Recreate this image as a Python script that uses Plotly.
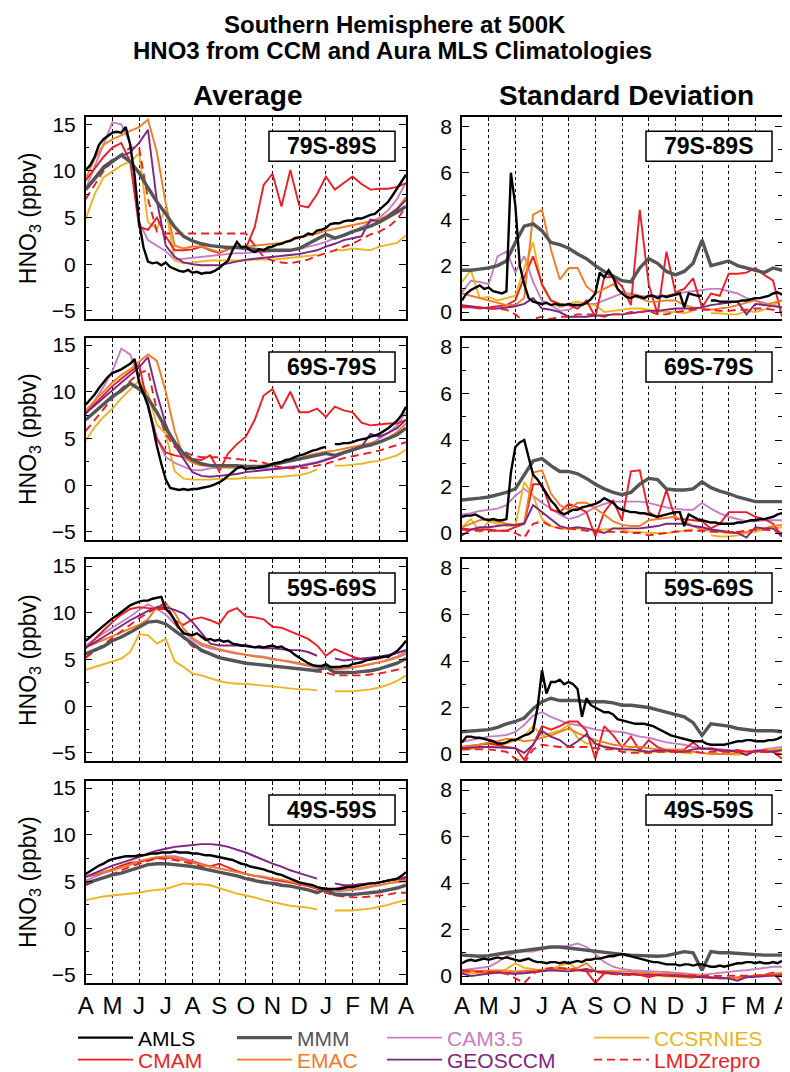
import plotly.graph_objects as go

# The page body adds an 8px margin, so the figure is sized to fill the rest of the 790x1072 window.
OFF = 8
W, H = 790 - OFF, 1072 - OFF
FONT = "Liberation Sans, Arial, Helvetica, sans-serif"

MONTHS = ["A", "M", "J", "J", "A", "S", "O", "N", "D", "J", "F", "M", "A"]
REGIONS = ["79S-89S", "69S-79S", "59S-69S", "49S-59S"]
X_MODEL = [k / 3 for k in range(37)]   # model climatology sampling (~10 days)
X_AMLS = [j / 6 for j in range(73)]    # Aura MLS sampling

# ---------------- Average, 79S-89S ----------------
avg1_amls = [10.1, 10.6, 11.5, 12.8, 13.4, 13.8, 14.1, 14.2, 14.1, 14.7, 12.8, 9.5, 4.5, 1.8, 0.3, 0.1, 0.2, -0.1,
             0.2, -0.3, -0.5, -0.7, -0.8, -0.6, -0.9, -0.8, -1.0, -0.9, -0.9, -0.7, -0.4, 0.0, 0.4, 1.5, 2.4, 1.8,
             1.9, 1.5, 1.3, 1.6, 1.5, 1.8, 1.9, 2.1, 2.2, 2.4, 2.5, 2.8, 2.9, 3.0, 3.3, 3.2, 3.6, 3.7,
             3.9, 4.3, 4.4, 4.4, 4.6, 4.7, 4.7, 4.9, 4.9, 5.1, 5.3, 5.4, 5.8, 6.2, 6.7, 7.4, 8.1, 8.8, 9.6]
avg1_mmm = [8.0, 9.2, 10.3, 11.0, 11.7, 11.0, 9.8, 8.2, 6.7, 5.4, 4.0, 3.0, 2.5, 2.2, 2.0, 1.9, 1.8, 1.8, 1.7, 1.6,
            1.5, 1.5, 1.5, 1.5, 1.7, 2.2, 2.8, 3.2, 2.8, 3.1, 3.5, 3.8, 4.1, 4.5, 5.0, 5.6, 6.2]
avg1_cam = [8.1, 10.5, 13.0, 15.2, 15.0, 13.0, 4.5, 2.6, 2.0, 1.4, 0.5, 0.6, 0.7, 0.8, 0.9, 1.0, 1.1, 1.2, 1.2, 1.3,
            1.3, 1.4, 1.4, 1.5, 1.6, 1.9, 2.1, 2.4, 2.8, 3.2, 3.5, 4.0, 4.5, 5.0, 5.8, 7.0, 8.8]
avg1_ccsr = [4.9, 7.5, 9.3, 10.0, 10.6, 11.0, 11.9, 4.5, 3.8, 6.0, 0.4, 0.1, 0.2, 0.3, 0.4, 0.4, 0.4, 0.4, 0.4, 0.5,
             0.5, 0.5, 0.6, 0.7, 0.8, 0.9, 1.0, None, 1.5, 1.5, 1.7, 1.6, 1.5, 1.9, 2.1, 2.3, 3.1]
avg1_cmam = [9.0, 10.3, 11.5, 12.5, 13.0, 11.0, 4.0, 3.7, 5.0, 3.0, 1.5, 1.5, 1.6, 1.9, 1.5, 1.2, 1.6, 1.9, 1.7, 4.0,
             8.5, 9.7, 6.2, 10.1, 6.3, 6.1, 7.5, 9.4, 8.0, 8.7, 9.4, 8.6, 8.0, 8.1, 8.1, 8.3, 8.7]
avg1_emac = [9.2, 11.3, 12.8, 13.4, 13.8, 14.3, 14.7, 15.5, 12.0, 6.5, 2.0, 1.7, 1.9, 1.9, 1.6, 1.3, 1.6, 1.9, 1.9, 2.0,
             2.1, 2.2, 2.3, 2.6, 2.8, 3.1, 3.3, 3.6, 3.8, 4.0, 4.2, 4.4, 4.6, 4.8, 5.3, 6.0, 7.2]
avg1_geos = [8.1, 9.3, 10.5, 11.2, 11.6, 12.0, 13.0, 14.4, 6.8, 2.0, 0.8, 0.2, 0.0, -0.1, -0.1, -0.1, 0.1, 0.3, 0.5, 0.6,
             0.7, 0.8, 0.9, 1.0, 1.1, 1.3, 1.5, 1.9, 2.2, 2.6, 2.8, 3.0, 4.8, 4.6, 5.2, 5.9, 6.9]
avg1_lmdz = [7.0, 8.5, 10.0, 11.0, 11.8, 12.5, 12.5, 7.0, 3.5, 3.3, 3.3, 3.3, 3.3, 3.3, 3.3, 3.3, 3.3, 3.3, 3.3, 2.0,
             0.8, 0.4, 0.2, 0.1, 0.3, 0.5, 0.9, 1.2, 1.5, 1.9, 2.2, 2.7, 3.2, 3.5, 4.0, 4.8, 6.2]

# ---------------- Average, 69S-79S ----------------
avg2_amls = [8.6, 9.1, 9.7, 10.4, 11.0, 11.6, 12.0, 12.2, 12.4, 12.7, 13.0, 13.5, 11.0, 9.8, 8.5, 6.5, 4.2, 2.3,
             0.6, -0.3, -0.4, -0.5, -0.4, -0.5, -0.4, -0.4, -0.3, -0.2, -0.1, 0.1, 0.3, 0.6, 1.0, 1.5, 1.8, 2.0,
             1.7, 1.8, 1.8, 1.9, 2.0, 2.1, 2.3, 2.4, 2.5, 2.7, 2.8, 3.0, 3.2, 3.3, 3.5, 3.7, 3.8, 4.0,
             4.1, None, 4.4, 4.4, 4.5, 4.5, 4.6, 4.8, 4.9, 5.0, 5.2, 5.3, 5.5, 5.8, 6.1, 6.5, 6.9, 7.5, 8.4]
avg2_mmm = [7.0, 7.8, 8.7, 9.5, 10.1, 10.9, 10.3, 9.3, 7.8, 6.1, 4.6, 3.4, 2.7, 2.3, 2.1, 2.1, 2.1, 2.1, 2.0, 2.0,
            2.0, 2.2, 2.4, 2.6, 2.8, 3.0, 3.2, 3.4, 3.2, 3.5, 3.8, 4.1, 4.3, 4.6, 5.0, 5.4, 6.1]
avg2_cam = [7.6, 9.0, 10.5, 12.2, 14.6, 14.0, 11.5, 8.8, 5.0, 3.0, 2.4, 2.0, 1.6, 1.6, 1.8, 1.9, 1.9, 1.9, 1.9, 1.8,
            1.8, 1.8, 1.9, 2.0, 2.1, 2.3, 2.5, 2.8, 3.1, 3.4, 3.7, 4.0, 4.4, 5.0, 5.6, 6.4, 7.8]
avg2_ccsr = [4.8, 6.2, 7.3, 8.2, 9.3, 10.2, 11.2, 9.8, 6.5, 5.5, 1.5, 0.7, 0.6, 0.6, 0.6, 0.7, 0.7, 0.7, 0.8, 0.8,
             0.8, 0.9, 0.9, 1.0, 1.1, 1.3, 1.7, None, 2.1, 2.1, 2.2, 2.3, 2.5, 2.6, 2.9, 3.2, 3.8]
avg2_cmam = [7.7, 8.7, 9.7, 10.6, 11.4, 12.2, 12.9, 8.5, 5.0, 3.5, 3.2, 3.0, 2.8, 2.7, 3.2, 1.5, 3.4, 4.4, 5.2, 7.0,
             9.6, 10.3, 8.2, 10.0, 7.8, 7.8, 8.2, 7.3, 8.4, 8.0, 7.8, 6.7, 6.4, 6.5, 6.6, 6.6, 7.0]
avg2_emac = [8.0, 9.0, 10.0, 11.0, 11.8, 12.4, 13.2, 14.0, 13.3, 10.0, 5.8, 3.0, 2.4, 2.1, 2.1, 2.0, 1.9, 1.9, 1.9, 2.0,
             2.1, 2.2, 2.4, 2.6, 2.9, 3.2, 3.4, 3.6, 3.7, 3.9, 4.1, 4.3, 4.5, 4.7, 5.1, 5.7, 6.6]
avg2_geos = [7.7, 8.5, 9.3, 10.2, 11.0, 11.8, 12.6, 13.7, 9.8, 6.5, 4.3, 2.8, 1.4, 1.0, 0.9, 1.0, 1.1, 1.2, 1.4, 1.5,
             1.6, 1.7, 1.8, 1.9, 2.0, 2.2, 2.4, 2.7, 3.0, 3.4, 3.7, 4.1, 5.5, 5.2, 5.6, 6.1, 7.0]
avg2_lmdz = [5.8, 7.0, 8.2, 9.3, 10.3, 11.2, 12.0, 12.3, 8.0, 5.5, 4.1, 3.6, 3.2, 3.0, 3.0, 3.0, 2.9, 2.8, 2.7, 2.6,
             2.4, 2.1, 1.9, 1.8, 1.8, 1.9, 2.1, 2.3, 2.6, 2.9, 3.1, 3.3, 3.5, 3.7, 4.0, 4.3, 4.6]

# ---------------- Average, 59S-69S ----------------
avg3_amls = [7.0, 7.4, 7.9, 8.3, 8.6, 9.1, 9.4, 9.7, 10.1, 10.5, 10.8, 11.0, 11.2, 11.3, 11.3, 11.5, 11.6, 11.7,
             10.4, 10.0, 9.2, 8.4, 7.8, 7.7, 7.6, 7.8, 7.4, 7.1, 7.2, 7.0, 7.1, 6.9, 7.0, 6.7, 6.6, 6.5,
             6.5, 6.4, 6.3, 6.4, 6.3, 6.4, 6.5, 6.3, 6.4, 6.1, 5.9, 5.5, 5.2, 4.9, 4.6, 4.4, 4.3, 4.3,
             4.5, 4.2, 4.2, 4.2, 4.3, 4.3, 4.5, 4.6, 4.7, 4.9, 5.0, 5.1, 5.2, 5.3, 5.3, 5.6, 5.9, 6.4, 7.0]
avg3_mmm = [5.6, 6.0, 6.4, 7.0, 7.4, 7.9, 8.5, 9.0, 9.1, 8.8, 8.1, 7.4, 6.6, 6.0, 5.6, 5.2, 5.0, 4.8, 4.6, 4.5,
            4.4, 4.3, 4.2, 4.1, 4.0, 3.9, 3.8, 4.2, 3.6, 3.6, 3.6, 3.7, 3.8, 4.0, 4.3, 4.6, 5.1]
avg3_cam = [6.5, 7.2, 7.8, 8.4, 9.0, 9.6, 10.3, 10.9, 10.4, 9.8, 8.8, 7.9, 7.1, 6.5, 6.2, 6.0, 5.8, 5.6, 5.5, 5.4,
            5.3, 5.1, 4.9, 4.7, 4.5, 4.3, 4.1, 4.2, 3.9, 4.0, 4.1, 4.3, 4.5, 4.7, 5.0, 5.3, 5.8]
avg3_ccsr = [3.9, 4.2, 4.5, 4.8, 5.1, 5.8, 7.7, 7.6, 6.7, 7.2, 4.8, 4.2, 3.5, 3.3, 3.0, 2.7, 2.5, 2.4, 2.4, 2.3,
             2.2, 2.1, 2.0, 1.9, 1.8, 1.8, 1.7, None, 1.6, 1.6, 1.6, 1.7, 1.8, 2.0, 2.3, 2.7, 3.3]
avg3_cmam = [6.2, 7.2, 8.1, 9.0, 9.8, 10.4, 10.6, 10.5, 10.4, 10.4, 9.2, 8.7, 9.3, 9.5, 9.2, 8.8, 10.1, 10.5, 9.6, 9.5,
             9.3, 8.5, 8.4, 8.0, 7.6, 7.2, 6.5, 5.4, 6.1, 5.7, 5.3, 5.0, 5.0, 5.1, 5.4, 5.7, 6.0]
avg3_emac = [6.3, 6.7, 7.1, 7.5, 7.9, 8.3, 8.7, 9.3, 10.6, 11.0, 10.0, 8.3, 7.3, 6.7, 6.4, 6.1, 5.9, 5.7, 5.5, 5.3,
             5.2, 5.0, 4.9, 4.8, 4.6, 4.4, 4.3, 4.2, 4.0, 4.1, 4.2, 4.3, 4.5, 4.7, 4.9, 5.2, 5.6]
avg3_geos = [6.3, 6.8, 7.4, 8.0, 8.6, 9.2, 9.7, 10.2, 10.6, 10.6, 10.3, 9.9, 9.0, 7.8, 6.7, 6.5, 6.5, 6.5, 6.4, 6.3,
             6.2, 6.2, 6.1, 6.0, 6.0, 5.8, 5.4, None, 5.1, 4.9, 5.0, 5.1, 5.2, 5.3, 5.5, 5.7, 6.0]
avg3_lmdz = [5.2, 5.9, 6.6, 7.3, 8.0, 8.7, 9.4, 10.0, 10.6, 11.0, 9.0, 7.3, 6.4, 5.9, 5.5, 5.2, 5.0, 4.8, 4.6, 4.5,
             4.4, 4.3, 4.2, 4.1, 4.0, 3.9, 3.7, 3.6, 3.3, 3.3, 3.3, 3.3, 3.4, 3.5, 3.7, 3.9, 4.2]

# ---------------- Average, 49S-59S ----------------
avg4_amls = [5.8, 6.1, 6.4, 6.7, 6.9, 7.2, 7.4, 7.5, 7.6, 7.7, 7.7, 7.7, 7.8, 7.8, 7.9, 8.0, 8.0, 8.1,
             8.1, 8.1, 8.2, 8.1, 8.1, 8.1, 8.0, 8.0, 7.9, 7.8, 7.8, 7.7, 7.6, 7.5, 7.4, 7.3, 7.1, 6.9,
             6.8, 6.6, 6.5, 6.4, 6.3, 6.1, 6.0, 5.8, 5.7, 5.5, 5.3, 5.1, 4.9, 4.8, 4.7, 4.6, 4.4, 4.3,
             4.2, 4.2, 4.2, 4.2, 4.3, 4.4, 4.4, 4.5, 4.6, 4.7, 4.8, 4.8, 4.9, 5.0, 5.1, 5.2, 5.3, 5.6, 6.0]
avg4_mmm = [4.8, 5.1, 5.4, 5.7, 5.9, 6.2, 6.5, 6.8, 6.9, 6.9, 6.8, 6.7, 6.6, 6.4, 6.2, 6.0, 5.8, 5.6, 5.3, 5.1,
            4.9, 4.8, 4.6, 4.5, 4.3, 4.1, 3.8, 4.2, 3.6, 3.6, 3.6, 3.7, 3.8, 3.9, 4.1, 4.3, 4.6]
avg4_cam = [5.1, 5.5, 5.9, 6.2, 6.5, 6.8, 7.1, 7.4, 7.6, 7.7, 7.7, 7.5, 7.2, 6.9, 6.6, 6.4, 6.2, 6.0, 5.8, 5.6,
            5.4, 5.2, 5.0, 4.9, 4.7, 4.5, 4.3, 4.3, 3.9, 4.0, 4.1, 4.2, 4.4, 4.6, 4.8, 4.9, 5.0]
avg4_ccsr = [3.0, 3.2, 3.4, 3.5, 3.6, 3.7, 3.8, 4.0, 4.1, 4.2, 4.5, 4.8, 4.7, 4.7, 4.6, 4.3, 4.0, 3.7, 3.5, 3.3,
             3.0, 2.8, 2.6, 2.4, 2.3, 2.2, 2.0, None, 1.9, 1.9, 1.9, 2.0, 2.1, 2.3, 2.5, 2.8, 3.0]
avg4_cmam = [5.5, 5.7, 6.0, 6.3, 6.7, 7.0, 7.1, 7.3, 7.5, 7.5, 7.5, 7.3, 7.1, 6.8, 6.6, 6.9, 6.5, 6.1, 5.8, 5.6,
             5.5, 5.2, 5.1, 4.9, 4.7, 4.5, 4.2, 3.9, 4.2, 4.4, 4.6, 4.7, 4.8, 4.9, 5.1, 5.2, 5.3]
avg4_emac = [5.5, 5.8, 6.0, 6.2, 6.5, 6.8, 7.2, 7.4, 7.6, 7.6, 7.5, 7.3, 7.0, 6.8, 6.6, 6.4, 6.2, 6.0, 5.8, 5.6,
             5.5, 5.3, 5.2, 5.0, 4.8, 4.6, 4.3, 4.2, 4.1, 4.1, 4.2, 4.3, 4.5, 4.6, 4.8, 5.0, 5.1]
avg4_geos = [5.5, 5.9, 6.3, 6.7, 7.0, 7.3, 7.6, 8.0, 8.3, 8.5, 8.7, 8.8, 8.9, 9.0, 9.0, 8.9, 8.7, 8.4, 8.1, 7.7,
             7.3, 6.9, 6.6, 6.2, 5.9, 5.6, 5.3, None, 4.8, 4.6, 4.6, 4.7, 4.8, 4.9, 5.1, 5.3, 5.5]
avg4_lmdz = [4.6, 5.0, 5.4, 5.8, 6.2, 6.6, 6.9, 7.2, 7.5, 7.4, 7.3, 7.1, 6.9, 6.6, 6.3, 6.0, 5.8, 5.6, 5.4, 5.2,
             5.0, 4.9, 4.7, 4.5, 4.3, 4.1, 3.9, 3.8, 3.5, 3.4, 3.3, 3.3, 3.4, 3.5, 3.6, 3.8, 3.8]

# ---------------- Standard deviation, 79S-89S ----------------
sd1_amls = [0.5, 0.8, 0.95, 1.05, 1.15, 1.0, 1.05, 0.9, 0.85, 0.8, 0.9, 6.0, 4.6, 2.0, 1.2, 0.6, 0.45, 0.4,
            0.35, 0.4, 0.3, 0.35, 0.3, 0.3, 0.35, 0.3, 0.3, 0.3, 0.4, 0.55, 0.8, 1.7, 1.5, 1.8, 1.5, 1.0,
            0.8, 0.65, 0.6, 0.7, 0.65, 0.6, 0.7, 0.7, 0.6, 0.7, 0.65, 0.7, 0.75, 0.8, 0.2, 0.8, 0.75, 0.7,
            0.7, None, 0.5, 0.5, 0.45, 0.45, 0.45, 0.45, 0.45, 0.5, 0.5, 0.55, 0.6, 0.6, 0.65, 0.7, 0.8, 0.85, 0.75]
sd1_mmm = [1.8, 1.8, 1.85, 1.9, 2.0, 2.2, 3.0, 3.7, 3.8, 3.5, 3.0, 2.9, 2.75, 2.5, 2.3, 2.0, 1.75, 1.55, 1.35, 1.3,
           1.9, 2.3, 2.1, 1.75, 1.6, 1.75, 2.1, 3.1, 2.0, 2.1, 2.2, 2.0, 1.9, 1.8, 1.7, 1.9, 1.8]
sd1_cam = [0.85, 1.35, 1.3, 1.2, 2.4, 2.6, 1.7, 2.4, 1.3, 0.5, 0.3, 0.05, 0.1, 0.3, 0.35, 0.35, 0.5, 0.65, 0.8, 0.8,
           0.7, 0.65, 0.7, 0.7, 0.8, 0.85, 0.9, 0.95, 1.0, 1.0, 0.9, 0.8, 0.6, 0.5, 0.4, 0.3, 0.2]
sd1_ccsr = [1.3, 1.8, 0.6, 0.65, 0.5, 0.6, 0.7, 1.9, 3.0, 1.1, 0.5, 0.2, 0.35, 0.45, 0.35, 0.3, 0.0, 0.05, 0.1, 0.15,
            0.15, 0.1, 0.05, 0.0, 0.0, -0.05, 0.05, None, -0.05, -0.05, -0.1, -0.1, 0.05, 0.0, 0.1, 0.3, 0.5]
sd1_cmam = [0.2, 0.2, 0.15, 0.2, 0.25, 0.3, 0.5, 1.5, 2.4, 1.2, 0.5, 0.35, 0.3, 0.15, 0.5, -0.2, 1.5, 1.5, 1.1, 0.3,
            4.4, 1.2, -0.1, 2.6, 0.85, 1.0, 1.45, 0.2, 0.8, 0.7, 1.65, 1.65, 1.7, 1.9, 1.6, 1.35, -0.2]
sd1_emac = [0.8, 0.7, 0.6, 0.5, 0.4, 0.3, 0.3, 0.6, 4.2, 4.4, 2.7, 1.4, 1.9, 1.9, 1.1, 0.8, 1.0, 1.2, 0.8, 0.7,
            0.6, 0.45, 0.45, 0.5, 0.5, 0.3, 0.2, 0.15, 0.1, 0.15, 0.2, 0.3, 0.4, 0.5, 0.3, 0.4, 0.5]
sd1_geos = [0.3, 0.25, 0.2, 0.15, 0.15, 0.2, 0.25, 0.35, 0.6, 0.15, 0.1, 0.0, -0.2, -0.2, -0.2, -0.15, -0.15, -0.1,
            -0.1, -0.05, 0.0, 0.05, 0.05, 0.1, 0.15, 0.15, 0.15, 0.2, 0.3, 0.35, 0.4, 0.45, -0.1, 0.35, 0.3, 0.25, 0.2]
sd1_lmdz = [0.25, 0.2, 0.2, 0.15, 0.15, 0.1, -0.1, -0.4, -0.3, -0.2, -0.3, -0.2, -0.2, -0.1, -0.1, -0.1, -0.2, -0.1,
            -0.1, 0.0, 0.0, 0.05, -0.1, -0.1, 0.0, 0.05, 0.1, 0.1, 0.1, 0.05, 0.05, 0.1, 0.1, 0.15, 0.15, 0.1, 0.0]

# ---------------- Standard deviation, 69S-79S ----------------
sd2_amls = [0.7, 0.75, 0.75, 0.8, 0.7, 0.6, 0.55, 0.6, 0.55, 0.55, 0.6, 2.6, 3.7, 3.9, 4.0, 3.3, 2.5, 2.3,
            2.0, 1.7, 1.4, 1.2, 0.9, 0.8, 0.9, 1.0, 1.0, 1.1, 1.15, 1.2, 1.25, 1.35, 1.5, 1.4, 1.3, 1.1,
            1.0, 0.95, 0.9, 0.9, 0.85, 0.85, 0.8, 0.75, 0.7, 0.75, 0.8, 0.85, 0.9, 0.9, 0.3, 0.8, 0.7, 0.6,
            0.55, 0.5, 0.45, 0.45, 0.4, 0.4, 0.4, 0.4, 0.45, 0.45, 0.5, 0.55, 0.55, 0.6, 0.6, 0.65, 0.7, 0.8, 0.85]
sd2_mmm = [1.42, 1.45, 1.5, 1.55, 1.65, 1.75, 1.9, 2.5, 3.1, 3.2, 2.9, 2.65, 2.65, 2.55, 2.35, 2.1, 1.9, 1.75, 1.65,
           1.75, 2.1, 2.35, 2.3, 1.9, 1.85, 1.85, 1.9, 2.2, 1.95, 1.8, 1.7, 1.55, 1.45, 1.35, 1.35, 1.35, 1.35]
sd2_cam = [0.8, 0.85, 0.95, 1.0, 1.05, 1.2, 1.6, 1.9, 1.6, 1.3, 1.05, 0.8, 0.6, 0.7, 0.9, 1.1, 1.25, 1.35, 1.35, 1.35,
           1.35, 1.3, 1.2, 1.1, 1.05, 1.0, 1.0, 1.3, 1.05, 0.85, 0.7, 0.6, 0.5, 0.5, 0.55, 0.55, 0.55]
sd2_ccsr = [0.25, 0.6, 0.05, 0.5, 0.4, 0.3, 0.3, 2.2, 1.6, 0.6, 0.3, 0.2, 0.15, 0.2, 0.15, 0.15, 0.15, 0.2, 0.15,
            0.05, 0.05, 0.0, 0.0, 0.0, 0.05, 0.1, 0.15, None, -0.1, -0.15, -0.15, -0.1, 0.0, 0.05, 0.15, 0.2, 0.25]
sd2_cmam = [0.2, 0.15, 0.15, 0.15, 0.1, 0.1, 0.25, 0.4, 2.1, 2.1, 1.0, 0.9, 1.25, 1.1, 0.9, -0.15, 0.9, 1.4, 0.55,
            2.65, 2.7, 0.9, 0.65, 1.85, 0.6, 0.6, 0.55, 0.5, 0.2, 0.4, 0.9, 0.9, 0.9, 0.7, 0.6, 0.4, -0.15]
sd2_emac = [0.25, 0.4, 0.55, 0.6, 0.5, 0.4, 0.35, 0.45, 2.6, 2.7, 1.7, 1.2, 1.0, 1.3, 1.3, 1.05, 0.8, 0.5, 0.35, 0.3,
            0.3, 0.55, 0.6, 0.65, 0.7, 0.5, 0.3, 0.15, 0.1, 0.05, 0.0, 0.0, 0.05, 0.15, 0.2, 0.3, 0.35]
sd2_geos = [-0.1, 0.15, 0.25, 0.25, 0.3, 0.35, 0.35, 0.4, 1.2, 0.9, 0.6, 0.3, 0.2, 0.25, 0.2, 0.1, 0.0, 0.2, 0.2, 0.2,
            0.2, 0.25, 0.3, 0.4, 0.4, 0.4, 0.3, 0.25, 0.15, 0.1, 0.05, 0.0, -0.2, 0.25, 0.2, 0.2, -0.15]
sd2_lmdz = [0.15, 0.1, 0.1, 0.1, 0.1, 0.1, 0.0, -0.2, 0.4, 0.5, 0.3, 0.2, 0.2, 0.15, 0.1, 0.1, 0.05, 0.05, 0.05, 0.0,
            0.0, -0.1, -0.05, 0.0, 0.05, 0.1, 0.1, 0.1, 0.05, 0.05, 0.05, 0.05, 0.1, 0.15, 0.15, 0.1, 0.0]

# ---------------- Standard deviation, 59S-69S ----------------
sd3_amls = [0.5, 0.75, 0.75, 0.7, 0.7, 0.65, 0.6, 0.55, 0.45, 0.45, 0.5, 0.6, 0.6, 0.7, 0.8, 0.85, 1.0, 2.0,
            3.6, 2.6, 3.1, 3.1, 3.2, 3.0, 3.1, 3.0, 2.8, 1.6, 2.4, 2.1, 2.0, 1.9, 1.8, 1.8, 1.7, 1.5,
            1.45, 1.4, 1.35, 1.3, 1.3, 1.3, 1.25, 1.2, 1.1, 1.0, 0.9, 0.8, 0.75, 0.7, 0.65, 0.6, 0.55, 0.55,
            0.55, 0.45, 0.4, 0.4, 0.4, 0.4, 0.45, 0.5, 0.55, 0.55, 0.6, 0.6, 0.55, 0.55, 0.55, 0.6, 0.6, 0.65, 0.75]
sd3_mmm = [0.96, 1.0, 1.02, 1.05, 1.15, 1.3, 1.4, 1.55, 1.95, 2.25, 2.4, 2.3, 2.3, 2.3, 2.25, 2.25, 2.25, 2.2, 2.1, 2.1,
           2.05, 2.0, 1.9, 1.8, 1.7, 1.6, 1.35, 0.8, 1.3, 1.25, 1.2, 1.1, 1.05, 1.0, 1.0, 1.0, 0.96]
sd3_cam = [0.53, 0.6, 0.7, 0.75, 0.78, 0.82, 0.95, 1.25, 1.65, 1.8, 1.6, 1.45, 1.3, 1.25, 1.15, 1.05, 1.0, 0.96, 0.95,
           0.85, 0.75, 0.7, 0.6, 0.5, 0.45, 0.4, 0.3, 0.25, 0.25, 0.2, 0.17, 0.12, 0.1, 0.15, 0.2, 0.25, 0.3]
sd3_ccsr = [0.17, 0.22, 0.27, 0.3, 0.35, 0.45, 0.6, 0.8, 1.2, 0.8, 0.9, 1.0, 1.25, 0.7, 0.45, 0.45, 0.35, 0.25, 0.2,
            0.15, 0.1, 0.1, 0.1, 0.1, 0.1, 0.05, 0.03, None, 0.03, 0.0, -0.03, -0.03, 0.03, 0.1, 0.17, 0.2, 0.25]
sd3_cmam = [0.3, 0.35, 0.4, 0.45, 0.4, 0.3, 0.25, -0.25, 0.4, 1.2, 1.05, 1.2, 1.4, 1.4, 1.0, -0.2, 1.2, 0.8, 0.3, 0.75,
            0.15, 0.6, 0.3, 0.17, 0.17, 0.2, 0.5, 0.2, 0.25, 0.15, 0.1, 0.17, 0.1, 0.1, 0.17, 0.1, -0.2]
sd3_emac = [0.3, 0.35, 0.4, 0.5, 0.55, 0.65, 0.65, 0.55, 0.6, 0.7, 0.8, 0.95, 1.1, 0.9, 0.75, 0.6, 0.5, 0.4, 0.35,
            0.3, 0.3, 0.25, 0.2, 0.2, 0.2, 0.15, 0.1, 0.05, 0.0, 0.0, 0.0, 0.05, 0.05, 0.1, 0.1, 0.15, 0.15]
sd3_geos = [0.25, 0.28, 0.3, 0.3, 0.28, 0.25, 0.25, 0.05, 0.4, 1.0, 0.75, 0.6, 0.3, 0.55, 0.85, 0.45, 0.3, 0.25, 0.2,
            0.2, 0.15, 0.1, 0.15, 0.15, 0.1, 0.1, 0.2, 0.25, 0.2, 0.15, 0.15, 0.1, -0.05, 0.15, 0.1, 0.1, 0.17]
sd3_lmdz = [0.2, 0.2, 0.2, 0.2, 0.15, 0.1, -0.2, -0.4, 0.2, 0.4, 0.35, 0.3, 0.3, 0.3, 0.3, 0.25, 0.2, 0.2, 0.1, 0.05,
            0.05, 0.05, 0.1, 0.1, 0.1, 0.1, 0.1, 0.05, 0.1, 0.1, 0.1, 0.1, 0.1, 0.1, 0.1, 0.05, 0.0]

# ---------------- Standard deviation, 49S-59S ----------------
sd4_amls = [0.55, 0.65, 0.7, 0.65, 0.7, 0.75, 0.7, 0.75, 0.8, 0.75, 0.8, 0.75, 0.7, 0.65, 0.7, 0.75, 0.65, 0.6,
            0.6, 0.55, 0.6, 0.6, 0.55, 0.6, 0.55, 0.6, 0.65, 0.6, 0.7, 0.7, 0.75, 0.75, 0.8, 0.85, 0.85, 0.9,
            0.95, 0.9, 0.85, 0.8, 0.75, 0.7, 0.65, 0.6, 0.6, 0.55, 0.5, 0.5, 0.5, 0.45, 0.5, 0.5, 0.45, 0.5,
            0.5, 0.45, 0.4, 0.4, 0.45, 0.4, 0.45, 0.5, 0.55, 0.55, 0.6, 0.6, 0.55, 0.6, 0.55, 0.55, 0.6, 0.55, 0.65]
sd4_mmm = [0.9, 0.88, 0.85, 0.88, 0.95, 1.0, 1.05, 1.1, 1.15, 1.2, 1.25, 1.25, 1.2, 1.15, 1.1, 1.05, 1.0, 0.97, 0.93,
           0.9, 0.88, 0.85, 0.85, 0.88, 0.95, 1.05, 1.0, 0.25, 1.05, 1.0, 1.0, 0.97, 0.95, 0.93, 0.9, 0.9, 0.9]
sd4_cam = [0.25, 0.3, 0.33, 0.4, 0.6, 0.85, 1.0, 1.05, 1.05, 1.15, 1.25, 1.25, 1.3, 1.4, 1.25, 0.95, 0.6, 0.4, 0.3,
           0.25, 0.22, 0.2, 0.19, 0.17, 0.15, 0.11, 0.08, 0.05, 0.1, 0.15, 0.2, 0.22, 0.25, 0.3, 0.35, 0.4, 0.4]
sd4_ccsr = [0.11, 0.12, 0.14, 0.15, 0.15, 0.3, 0.55, 0.35, 0.3, 0.2, 0.3, 0.45, 0.55, 0.3, 0.2, 0.2, 0.15, 0.1, 0.1,
            0.08, 0.06, 0.05, 0.03, 0.02, 0.0, -0.05, -0.1, None, -0.1, -0.1, -0.1, -0.08, -0.05, 0.0, 0.05, 0.1, 0.15]
sd4_cmam = [0.25, 0.22, 0.2, 0.18, 0.18, 0.15, 0.1, 0.2, 0.2, 0.25, 0.3, 0.33, 0.3, 0.25, 0.2, -0.3, 0.12, 0.12, 0.1,
            0.08, 0.05, -0.05, 0.05, 0.02, 0.0, -0.05, -0.05, -0.08, -0.08, -0.1, -0.1, -0.05, -0.02, 0.0, 0.05, 0.15, -0.3]
sd4_emac = [0.19, 0.2, 0.22, 0.25, 0.25, 0.22, 0.2, 0.22, 0.25, 0.3, 0.33, 0.33, 0.3, 0.35, 0.55, 0.2, 0.22, 0.22, 0.2,
            0.18, 0.15, 0.12, 0.11, 0.1, 0.08, 0.06, 0.04, 0.0, -0.05, -0.1, -0.1, -0.08, -0.05, 0.0, 0.05, 0.08, 0.11]
sd4_geos = [0.11, 0.0, 0.05, 0.1, 0.15, 0.12, 0.1, 0.12, 0.15, 0.2, 0.25, 0.22, 0.2, 0.25, 0.3, 0.2, 0.15, 0.12, 0.1,
            0.08, 0.06, 0.05, 0.05, 0.03, 0.02, 0.0, -0.02, -0.05, -0.05, -0.08, -0.1, -0.2, -0.05, -0.03, 0.0, 0.02, 0.04]
sd4_lmdz = [0.2, 0.2, 0.2, 0.18, 0.15, 0.1, -0.1, -0.3, 0.1, 0.3, 0.35, 0.35, 0.3, 0.25, 0.2, 0.15, 0.1, 0.08, 0.05,
            0.05, 0.05, 0.05, 0.05, 0.05, 0.05, 0.05, 0.05, 0.02, 0.0, 0.0, 0.0, 0.0, 0.0, 0.0, 0.02, 0.03, 0.05]

# ---------------- assembly ----------------
SERIES = ["CAM3.5", "CCSRNIES", "CMAM", "EMAC", "GEOSCCM", "LMDZrepro", "MMM", "AMLS"]
COLORS = {"AMLS": "#000000", "MMM": "#555555", "CAM3.5": "#C77DC5", "CCSRNIES": "#EBB420",
          "CMAM": "#EE1D25", "EMAC": "#F47B22", "GEOSCCM": "#7A2682", "LMDZrepro": "#EE1D25"}
WIDTHS = {"AMLS": 2.4, "MMM": 3.4}
DASH = {"LMDZrepro": "8px,5px"}

g = globals()
PANELS = []
for r in range(4):
    for kind in ("avg", "sd"):
        p = {}
        for key, name in [("amls", "AMLS"), ("mmm", "MMM"), ("cam", "CAM3.5"), ("ccsr", "CCSRNIES"),
                          ("cmam", "CMAM"), ("emac", "EMAC"), ("geos", "GEOSCCM"), ("lmdz", "LMDZrepro")]:
            arr = g[f"{kind}{r + 1}_{key}"]
            need = 73 if key == "amls" else 37
            assert len(arr) == need, (f"{kind}{r + 1}_{key}", len(arr))
            p[name] = arr
        PANELS.append(p)


def px_x(px):
    """window pixel x -> paper fraction"""
    return (px - OFF) / W


def px_y(py):
    """window pixel y -> paper fraction"""
    return 1 - (py - OFF) / H


# panel geometry in window pixels (layout only)
COL_X = [(85.7, 406.0), (462.0, 782.0)]
ROW_Y = [(117.3, 319.0), (338.0, 540.0), (559.0, 761.0), (781.0, 983.0)]
YRANGE = [[-5.86, 15.75], [-0.3, 8.39]]
YTICKS = [[-5, 0, 5, 10, 15], [0, 2, 4, 6, 8]]
YMINOR = [2.5, 1]

# legend placement (line start x, row y) in window pixels
LEG_POS = {"AMLS": (78, 1038), "MMM": (237, 1038), "CAM3.5": (387, 1038), "CCSRNIES": (594, 1038),
           "CMAM": (78, 1060), "EMAC": (237, 1060), "GEOSCCM": (387, 1060), "LMDZrepro": (594, 1060)}
LEG_ID = {name: ("legend" if i == 0 else f"legend{i + 1}") for i, name in
          enumerate(["AMLS", "MMM", "CAM3.5", "CCSRNIES", "CMAM", "EMAC", "GEOSCCM", "LMDZrepro"])}

fig = go.Figure()
layout = dict(width=W, height=H, margin=dict(l=0, r=0, t=0, b=0, autoexpand=False), showlegend=True,
              paper_bgcolor="white", plot_bgcolor="white", font=dict(family=FONT, color="black"),
              annotations=[], shapes=[])

for i, p in enumerate(PANELS):
    r, c = divmod(i, 2)
    n = i + 1
    xs = "" if n == 1 else str(n)
    for name in SERIES:
        xv = X_AMLS if name == "AMLS" else X_MODEL
        fig.add_trace(go.Scatter(
            x=xv, y=p[name], mode="lines", name=name,
            line=dict(color=COLORS[name], width=WIDTHS.get(name, 1.9), dash=DASH.get(name, "solid")),
            xaxis="x" + xs, yaxis="y" + xs, showlegend=(i == 0), legend=LEG_ID[name],
            hoverinfo="skip"))
    x0, x1 = COL_X[c]
    y0, y1 = ROW_Y[r]
    layout["xaxis" + xs] = dict(
        domain=[px_x(x0), px_x(x1)], anchor="y" + xs, range=[0, 12],
        tickmode="array", tickvals=list(range(13)), ticktext=MONTHS,
        showticklabels=(r == 3), tickfont=dict(size=24), ticks="inside", ticklen=4,
        tickcolor="black", tickwidth=1, showline=True, linecolor="black", linewidth=1.5, mirror="ticks",
        showgrid=True, gridcolor="black", gridwidth=1, griddash="3px,3px", zeroline=False,
        ticklabelstandoff=0, ticklabeloverflow="allow")
    layout["yaxis" + xs] = dict(
        domain=[px_y(y1), px_y(y0)], anchor="x" + xs, range=YRANGE[c],
        tickmode="array", tickvals=YTICKS[c], tickfont=dict(size=21), ticks="inside", ticklen=7,
        tickcolor="black", tickwidth=1, showline=True, linecolor="black", linewidth=1.5, mirror="ticks",
        showgrid=False, zeroline=False, ticklabelstandoff=4, ticklabeloverflow="allow",
        minor=dict(dtick=YMINOR[c], tick0=0, ticks="inside", ticklen=4, tickcolor="black", showgrid=False))
    # region label box
    bx0, bx1 = (269, 395) if c == 0 else (646, 772)
    by0, by1 = y0 + 14, y0 + 44
    layout["shapes"].append(dict(type="rect", xref="paper", yref="paper",
                                 x0=px_x(bx0), x1=px_x(bx1), y0=px_y(by1), y1=px_y(by0),
                                 line=dict(color="black", width=1.5), fillcolor="white", layer="above"))
    layout["annotations"].append(dict(text="<b>" + REGIONS[r] + "</b>", xref="paper", yref="paper",
                                      x=px_x((bx0 + bx1) / 2), y=px_y((by0 + by1) / 2),
                                      showarrow=False, font=dict(size=23), xanchor="center", yanchor="middle"))
    if c == 0:
        layout["annotations"].append(dict(text="HNO<sub>3</sub> (ppbv)", xref="paper", yref="paper",
                                          x=px_x(29), y=px_y((y0 + y1) / 2), textangle=-90,
                                          showarrow=False, font=dict(size=23), xanchor="center",
                                          yanchor="middle"))

# titles
layout["annotations"] += [
    dict(text="<b>Southern Hemisphere at 500K</b>", xref="paper", yref="paper", x=px_x(395), y=px_y(25),
         showarrow=False, font=dict(size=24), xanchor="center", yanchor="middle"),
    dict(text="<b>HNO3 from CCM and Aura MLS Climatologies</b>", xref="paper", yref="paper", x=px_x(392),
         y=px_y(50), showarrow=False, font=dict(size=24), xanchor="center", yanchor="middle"),
    dict(text="<b>Average</b>", xref="paper", yref="paper", x=px_x(247), y=px_y(96),
         showarrow=False, font=dict(size=28), xanchor="center", yanchor="middle"),
    dict(text="<b>Standard Deviation</b>", xref="paper", yref="paper", x=px_x(626), y=px_y(96),
         showarrow=False, font=dict(size=28), xanchor="center", yanchor="middle"),
]

for name, lid in LEG_ID.items():
    lx, ly = LEG_POS[name]
    layout[lid] = dict(x=px_x(lx - 5), y=px_y(ly), xanchor="left", yanchor="middle",
                       bgcolor="rgba(0,0,0,0)", borderwidth=0, itemwidth=55,
                       font=dict(size=21, color=COLORS[name], family=FONT))

fig.update_layout(**layout)
fig.write_html("out.html")
